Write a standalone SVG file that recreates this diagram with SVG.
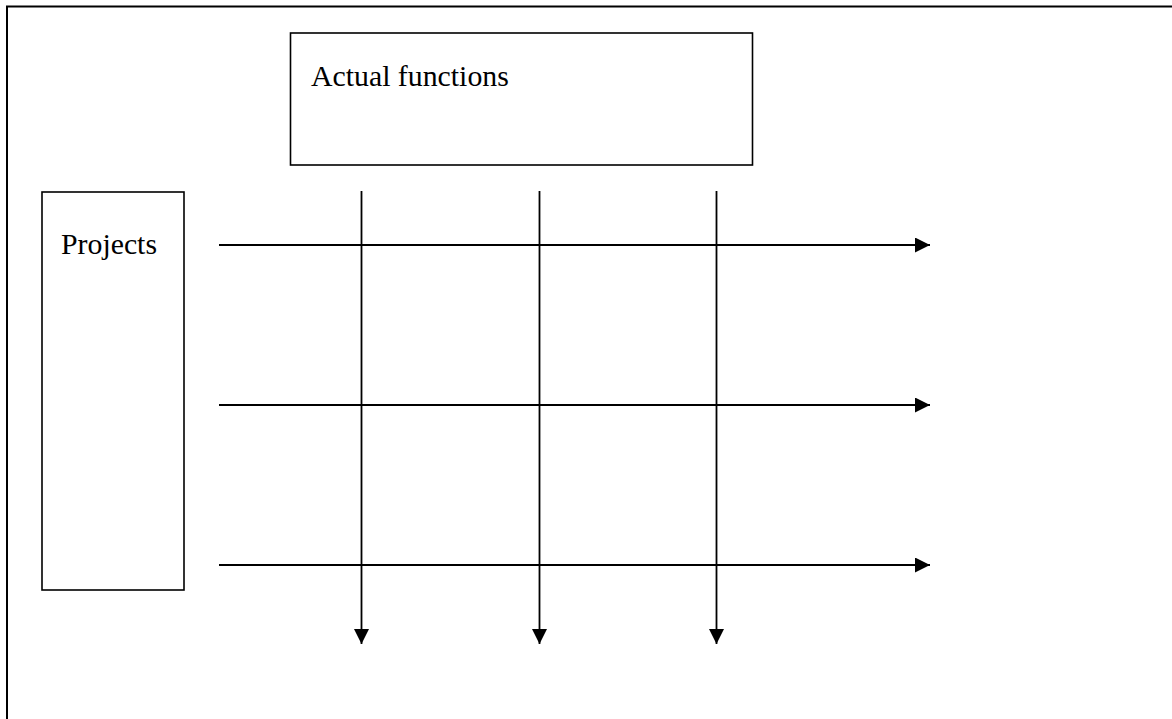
<svg xmlns="http://www.w3.org/2000/svg" width="1172" height="719" viewBox="0 0 1172 719">
<style>
.box{fill:#fff;stroke:#000;stroke-width:1.6}
.lbl{font-family:"Liberation Serif","Times New Roman",serif;font-size:29.8px;fill:#000}
.ln{stroke:#000;stroke-width:1.8;fill:none}
</style>
<defs>
<marker id="ah" markerWidth="15" markerHeight="15" refX="15" refY="7.5" orient="auto" markerUnits="userSpaceOnUse">
<path d="M0,0 L15,7.5 L0,15 Z" fill="#000"/>
</marker>
</defs>
<rect x="0" y="0" width="1172" height="719" fill="#fff"/>
<g id="frame"><path d="M7,725 L7,6.5 L1180,6.5" fill="none" stroke="#000" stroke-width="2"/></g>
<g id="actual-functions">
<rect class="box" x="290.5" y="33" width="462" height="132"/>
<text class="lbl" x="311" y="86">Actual functions</text>
</g>
<g id="projects">
<rect class="box" x="42" y="192" width="142" height="398"/>
<text class="lbl" x="61" y="254">Projects</text>
</g>
<g id="connectors">
<line class="ln" x1="219" y1="245" x2="930" y2="245" marker-end="url(#ah)"/>
<line class="ln" x1="219" y1="405" x2="930" y2="405" marker-end="url(#ah)"/>
<line class="ln" x1="219" y1="565" x2="930" y2="565" marker-end="url(#ah)"/>
<line class="ln" x1="361.5" y1="191" x2="361.5" y2="644" marker-end="url(#ah)"/>
<line class="ln" x1="539.5" y1="191" x2="539.5" y2="644" marker-end="url(#ah)"/>
<line class="ln" x1="716.5" y1="191" x2="716.5" y2="644" marker-end="url(#ah)"/>
</g>
</svg>
